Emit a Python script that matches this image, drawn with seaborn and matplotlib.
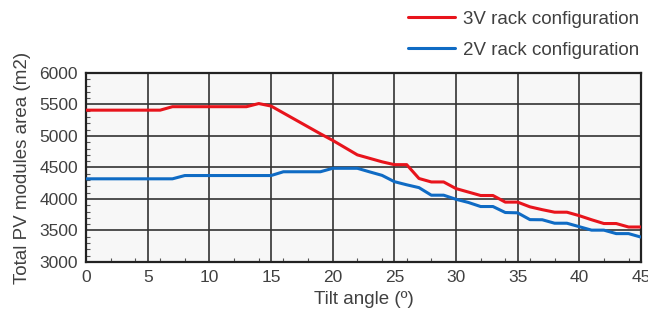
"""
Total PV modules area vs tilt angle for 3V and 2V rack configurations.
"""

import matplotlib
matplotlib.use('Agg')
import matplotlib.pyplot as plt
from matplotlib.ticker import MultipleLocator
import pandas as pd
import seaborn as sns

sns.set_style("white")
plt.rcParams['font.family'] = ['Liberation Sans', 'DejaVu Sans']

# Tilt angle (degrees) and area values
tilt = list(range(0, 46))
area_3v = [5410, 5410, 5410, 5410, 5410, 5410, 5410, 5465, 5465, 5465,
           5465, 5465, 5465, 5465, 5515, 5475, 5365, 5255, 5145, 5035,
           4930, 4815, 4700, 4645, 4590, 4545, 4545, 4325, 4270, 4270,
           4165, 4110, 4055, 4055, 3950, 3950, 3875, 3830, 3790, 3790,
           3735, 3670, 3610, 3610, 3555, 3555]
area_2v = [4320, 4320, 4320, 4320, 4320, 4320, 4320, 4320, 4372, 4372,
           4372, 4372, 4372, 4372, 4372, 4372, 4432, 4432, 4432, 4432,
           4487, 4487, 4487, 4430, 4375, 4275, 4225, 4180, 4060, 4060,
           3995, 3945, 3880, 3880, 3785, 3780, 3672, 3670, 3615, 3615,
           3560, 3505, 3505, 3450, 3450, 3395]

series_names = ['3V rack configuration', '2V rack configuration']
series_colors = ['#e8141c', '#0f6bc4']

df = pd.DataFrame({'tilt': tilt * 2,
                   'area': area_3v + area_2v,
                   'config': [series_names[0]] * len(tilt) + [series_names[1]] * len(tilt)})

fig = plt.figure(figsize=(6.48, 3.23), dpi=100)
ax = fig.add_axes([0.133, 0.189, 0.856, 0.585])
ax.set_facecolor('#f7f7f7')

sns.lineplot(data=df, x='tilt', y='area', hue='config', palette=series_colors,
             hue_order=series_names, linewidth=2.2, ax=ax, legend=False, zorder=3)

ax.set_xlim(0, 45)
ax.set_ylim(3000, 6000)
ax.xaxis.set_major_locator(MultipleLocator(5))
ax.xaxis.set_minor_locator(MultipleLocator(2))
ax.yaxis.set_major_locator(MultipleLocator(500))
ax.yaxis.set_minor_locator(MultipleLocator(100))
ax.grid(which='major', color='#333333', linewidth=1.2, zorder=1)
ax.set_axisbelow(True)

for spine in ax.spines.values():
    spine.set_color('#222222')
    spine.set_linewidth(1.6)

ax.tick_params(which='major', direction='in', length=0, labelsize=12.5,
               labelcolor='#404040', pad=6)
ax.tick_params(which='minor', direction='in', length=3, color='#555555', width=0.8)
ax.tick_params(axis='y', which='minor', left=True)
ax.tick_params(axis='x', which='minor', bottom=True)

ax.set_xlabel('Tilt angle (º)', fontsize=13.5, color='#404040', labelpad=4)
ax.set_ylabel('Total PV modules area (m2)', fontsize=13.5, color='#404040', labelpad=6)

handles = [plt.Line2D([0], [0], color=c, linewidth=2.2) for c in series_colors]
fig.legend(handles, series_names, loc='upper right', bbox_to_anchor=(1.012, 1.02),
           frameon=False, fontsize=13.5, labelcolor='#404040', handlelength=2.5,
           handletextpad=0.4, labelspacing=0.75)

plt.savefig('out.png', dpi=100)
plt.close()
